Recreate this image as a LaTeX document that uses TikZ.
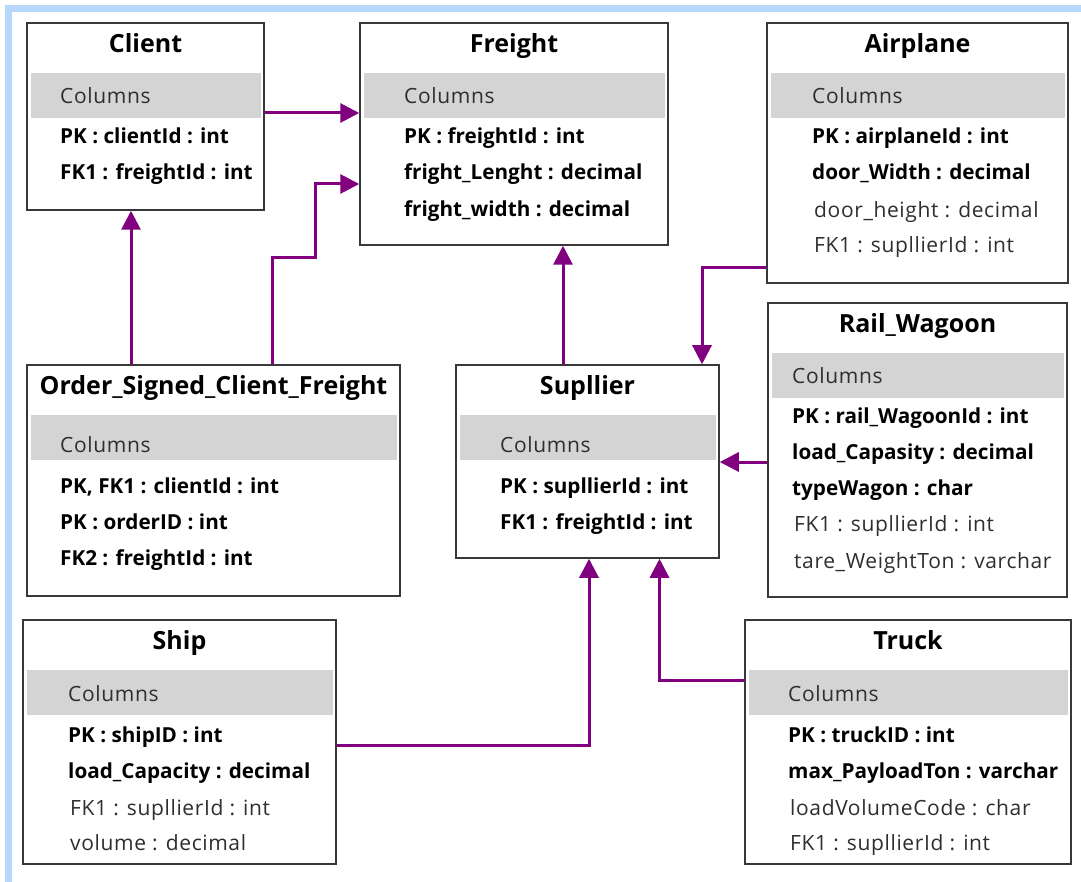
\documentclass[tikz,border=0pt]{standalone}
\usepackage{fontspec}
\setmainfont{Open Sans}
\newfontfamily\plainfont[LetterSpace=3]{Open Sans}
\usetikzlibrary{arrows.meta}
\definecolor{FrameBlue}{HTML}{B5D8FB}
\definecolor{LinkPurple}{HTML}{800080}
\definecolor{BandGray}{HTML}{D4D4D4}
\definecolor{BoxLine}{HTML}{383838}
\definecolor{PlainText}{HTML}{2E2E2E}

\begin{document}
\begin{tikzpicture}[x=1pt,y=-1pt,
  tbl/.style={draw=BoxLine,line width=1.5pt,fill=white,inner sep=0pt},
  band/.style={fill=BandGray,inner sep=0pt,minimum height=45pt},
  ttl/.style={font=\bfseries\fontsize{25}{28}\selectfont,inner sep=0pt,text height=17.8pt,text depth=0pt},
  colhead/.style={anchor=west,font=\plainfont\fontsize{21}{24}\selectfont,text=PlainText,inner sep=0pt,text height=15pt,text depth=0pt},
  key/.style={anchor=west,font=\bfseries\fontsize{20.7}{24}\selectfont,inner sep=0pt,text height=14.8pt,text depth=0pt},
  attr/.style={anchor=west,xshift=2pt,font=\plainfont\fontsize{21}{24}\selectfont,text=PlainText,inner sep=0pt,text height=15pt,text depth=0pt},
  fk/.style={LinkPurple,line width=3pt,-{Triangle[length=19pt,width=19pt]}}]
\useasboundingbox (0,0) rectangle (1081,882);
\fill[white] (0,0) rectangle (1081,882);
\draw[FrameBlue,line width=7pt] (8.5,8.5) rectangle (1100,900);

% Client
\node[tbl,minimum width=237pt,minimum height=187pt] (client) at (145.5,116.5) {};
\node[ttl] (client-title) at ([yshift=-21.5pt]client.north) {Client};
\node[band,minimum width=230pt] (client-band) at ([yshift=-73.5pt]client.north) {};
\node[colhead] (client-cols) at (60,96.5) {Columns};
\node[key] (client-r1) at (60,136) {PK : clientId : int};
\node[key] (client-r2) at (60,172) {FK1 : freightId : int};

% Freight
\node[tbl,minimum width=308pt,minimum height=222pt] (freight) at (514,134) {};
\node[ttl] (freight-title) at ([yshift=-21.5pt]freight.north) {Freight};
\node[band,minimum width=301pt] (freight-band) at ([yshift=-73.5pt]freight.north) {};
\node[colhead] (freight-cols) at (404,96.5) {Columns};
\node[key] (freight-r1) at (404,136) {PK : freightId : int};
\node[key] (freight-r2) at (404,172) {fright\_Lenght : decimal};
\node[key] (freight-r3) at (404,209) {fright\_width : decimal};

% Airplane
\node[tbl,minimum width=301pt,minimum height=260pt] (airplane) at (917.5,153) {};
\node[ttl] (airplane-title) at ([yshift=-21.5pt]airplane.north) {Airplane};
\node[band,minimum width=294pt] (airplane-band) at ([yshift=-73.5pt]airplane.north) {};
\node[colhead] (airplane-cols) at (812,96.5) {Columns};
\node[key] (airplane-r1) at (812,136) {PK : airplaneId : int};
\node[key] (airplane-r2) at (812,172) {door\_Width : decimal};
\node[attr] (airplane-r3) at (812,210) {door\_height : decimal};
\node[attr] (airplane-r4) at (812,245) {FK1 : supllierId : int};

% Rail_Wagoon
\node[tbl,minimum width=299pt,minimum height=294pt] (rail) at (917.5,450) {};
\node[ttl] (rail-title) at ([yshift=-21.5pt]rail.north) {Rail\_Wagoon};
\node[band,minimum width=292pt] (rail-band) at ([yshift=-73.5pt]rail.north) {};
\node[colhead] (rail-cols) at (792,376) {Columns};
\node[key] (rail-r1) at (792,416) {PK : rail\_WagoonId : int};
\node[key] (rail-r2) at (792,452) {load\_Capasity : decimal};
\node[key] (rail-r3) at (792,488) {typeWagon : char};
\node[attr] (rail-r4) at (792,524) {FK1 : supllierId : int};
\node[attr] (rail-r5) at (792,561) {tare\_WeightTon : varchar};

% Order_Signed_Client_Freight
\node[tbl,minimum width=373pt,minimum height=231pt] (order) at (213.5,480.5) {};
\node[ttl] (order-title) at ([yshift=-21.5pt]order.north) {Order\_Signed\_Client\_Freight};
\node[band,minimum width=366pt] (order-band) at ([yshift=-73.5pt]order.north) {};
\node[colhead] (order-cols) at (60,445) {Columns};
\node[key] (order-r1) at (60,486) {PK, FK1 : clientId : int};
\node[key] (order-r2) at (60,522) {PK : orderID : int};
\node[key] (order-r3) at (60,558) {FK2 : freightId : int};

% Supllier
\node[tbl,minimum width=263pt,minimum height=193pt] (sup) at (587.5,461.5) {};
\node[ttl] (sup-title) at ([yshift=-21.5pt]sup.north) {Supllier};
\node[band,minimum width=256pt] (sup-band) at ([yshift=-73.5pt]sup.north) {};
\node[colhead] (sup-cols) at (500,445) {Columns};
\node[key] (sup-r1) at (500,486) {PK : supllierId : int};
\node[key] (sup-r2) at (500,522) {FK1 : freightId : int};

% Ship
\node[tbl,minimum width=313pt,minimum height=244pt] (ship) at (179.5,742) {};
\node[ttl] (ship-title) at ([yshift=-21.5pt]ship.north) {Ship};
\node[band,minimum width=306pt] (ship-band) at ([yshift=-73.5pt]ship.north) {};
\node[colhead] (ship-cols) at (68,693.5) {Columns};
\node[key] (ship-r1) at (68,735) {PK : shipID : int};
\node[key] (ship-r2) at (68,771) {load\_Capacity : decimal};
\node[attr] (ship-r3) at (68,808) {FK1 : supllierId : int};
\node[attr] (ship-r4) at (68,843) {volume : decimal};

% Truck
\node[tbl,minimum width=326pt,minimum height=244pt] (truck) at (908,742) {};
\node[ttl] (truck-title) at ([yshift=-21.5pt]truck.north) {Truck};
\node[band,minimum width=319pt] (truck-band) at ([yshift=-73.5pt]truck.north) {};
\node[colhead] (truck-cols) at (788,693.5) {Columns};
\node[key] (truck-r1) at (788,735) {PK : truckID : int};
\node[key] (truck-r2) at (788,771) {max\_PayloadTon : varchar};
\node[attr] (truck-r3) at (788,808) {loadVolumeCode : char};
\node[attr] (truck-r4) at (788,843) {FK1 : supllierId : int};

% links
\draw[fk] ([yshift=3.5pt]client.east) -- ([yshift=3.5pt]client.east -| freight.west);
\draw[fk] ([xshift=58.5pt]order.north) -- ++(0,-107) -- ++(43,0) |- ([yshift=-50pt]freight.west);
\draw[fk] ([xshift=-82.5pt]order.north) -- ([xshift=-82.5pt]order.north |- client.south);
\draw[fk] ([xshift=-24.5pt]sup.north) -- ([xshift=-24.5pt]sup.north |- freight.south);
\draw[fk] ([yshift=-115pt]airplane.west) -| ([xshift=114.5pt]sup.north);
\draw[fk] ([yshift=-12pt]rail.west) -- ([yshift=-12pt]rail.west -| sup.east);
\draw[fk] ([yshift=-3pt]ship.east) -| ([xshift=1.5pt]sup.south);
\draw[fk] ([yshift=62pt]truck.west) -| ([xshift=72pt]sup.south);
\end{tikzpicture}
\end{document}
